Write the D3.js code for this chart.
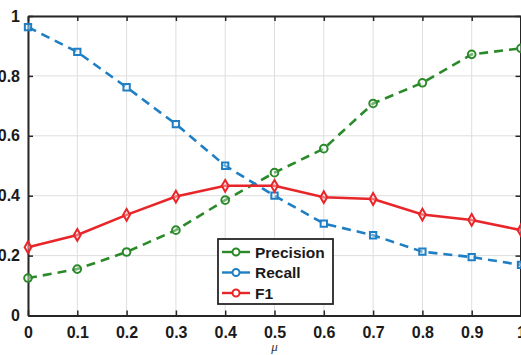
<!DOCTYPE html>
<html><head><meta charset="utf-8">
<script src="https://cdn.jsdelivr.net/npm/d3@7"></script>
<style>html,body{margin:0;padding:0;background:#fff;overflow:hidden}</style>
</head><body><svg id="c" width="521" height="355"></svg>
<script>
const mu = [0,0.1,0.2,0.3,0.4,0.5,0.6,0.7,0.8,0.9,1];
const precision = [0.125,0.155,0.212,0.285,0.385,0.477,0.557,0.708,0.777,0.872,0.892];
const recall = [0.963,0.88,0.762,0.639,0.50,0.40,0.307,0.268,0.213,0.195,0.169];
const f1 = [0.228,0.269,0.336,0.397,0.433,0.433,0.395,0.389,0.337,0.319,0.285];
const xTicks = [0,0.1,0.2,0.3,0.4,0.5,0.6,0.7,0.8,0.9,1];
const yTicks = [0,0.2,0.4,0.6,0.8,1];
const seriesNames = ["Precision","Recall","F1"];
const seriesColors = ["#2a8a2a","#1f7fc4","#e8262a"];

const svg = d3.select("#c");
const L=28,R=521,T=16,B=315.5;
const x = d3.scaleLinear().domain([0,1]).range([L,R]);
const y = d3.scaleLinear().domain([0,1]).range([B,T]);

// grid
const g = svg.append("g");
g.selectAll(".vg").data(xTicks).join("line").attr("x1",d=>x(d)).attr("x2",d=>x(d)).attr("y1",T).attr("y2",B).attr("stroke","#dedede").attr("stroke-width",1);
g.selectAll(".hg").data(yTicks).join("line").attr("y1",d=>y(d)).attr("y2",d=>y(d)).attr("x1",L).attr("x2",R).attr("stroke","#dedede").attr("stroke-width",1);

// axes
const fmt = d=> d===0?"0":(d===1?"1":d3.format(".1f")(d));
const ax = svg.append("g").attr("transform",`translate(0,${B})`).call(d3.axisBottom(x).tickValues(xTicks).tickFormat(fmt).tickSizeInner(-5).tickSizeOuter(0).tickPadding(11));
const axT = svg.append("g").attr("transform",`translate(0,${T})`).call(d3.axisTop(x).tickValues(xTicks).tickFormat("").tickSizeInner(-5).tickSizeOuter(0));
const ay = svg.append("g").attr("transform",`translate(${L},0)`).call(d3.axisLeft(y).tickValues(yTicks).tickFormat(fmt).tickSizeInner(-5).tickSizeOuter(0).tickPadding(8));
const ayR = svg.append("g").attr("transform",`translate(${R-0.5},0)`).call(d3.axisRight(y).tickValues(yTicks).tickFormat("").tickSizeInner(-5).tickSizeOuter(0));
[ax,axT,ay,ayR].forEach(a=>{
  a.select(".domain").attr("stroke","#262626").attr("stroke-width",2);
  a.selectAll(".tick line").attr("stroke","#262626").attr("stroke-width",1.5);
  a.selectAll("text").attr("font-family","'Liberation Sans',Arial,sans-serif").attr("font-weight","bold").attr("font-size","16px").attr("fill","#1a1a1a");
});
svg.append("text").attr("x",x(0.5)).attr("y",351).attr("text-anchor","middle").attr("font-family","'Liberation Serif',serif").attr("font-style","italic").attr("font-size","13px").attr("fill","#333").text("\u03BC");

// series
const data = [precision,recall,f1];
const dashes = ["9,6","9,6",null];
const markers = [d3.symbolCircle,d3.symbolSquare,d3.symbolDiamond];
const msize = [46,40,40];
const line = d3.line().x((d,i)=>x(mu[i])).y(d=>y(d));
data.forEach((s,k)=>{
  svg.append("path").datum(s).attr("d",line).attr("fill","none").attr("stroke",seriesColors[k]).attr("stroke-width",2.6).attr("stroke-dasharray",dashes[k]);
});
data.forEach((s,k)=>{
  svg.selectAll(null).data(s).join("path").attr("d",d3.symbol().type(markers[k]).size(msize[k]))
    .attr("transform",(d,i)=>`translate(${x(mu[i])},${y(d)})`)
    .attr("fill","#fff").attr("fill-opacity",0.35).attr("stroke",seriesColors[k]).attr("stroke-width",2);
});

// legend
const lg = svg.append("g");
lg.append("rect").attr("x",218).attr("y",239).attr("width",115).attr("height",65).attr("fill","#fff").attr("stroke","#262626").attr("stroke-width",1.8);
seriesNames.forEach((n,k)=>{
  const yy = 252 + k*20.5;
  lg.append("line").attr("x1",222).attr("x2",250).attr("y1",yy).attr("y2",yy).attr("stroke",seriesColors[k]).attr("stroke-width",2.4);
  lg.append("circle").attr("cx",236).attr("cy",yy).attr("r",3.5).attr("fill","#fff").attr("stroke",seriesColors[k]).attr("stroke-width",2);
  lg.append("text").attr("x",255).attr("y",yy+5.5).attr("font-family","'Liberation Sans',Arial,sans-serif").attr("font-weight","bold").attr("font-size","15.5px").attr("fill","#1a1a1a").text(n);
});
</script></body></html>
